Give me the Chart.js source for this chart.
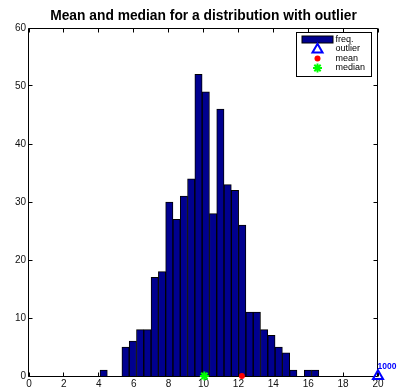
<!DOCTYPE html>
<html>
<head>
<meta charset="utf-8">
<script src="https://cdn.jsdelivr.net/npm/chart.js@4/dist/chart.umd.min.js"></script>
<style>
  html, body { margin: 0; padding: 0; background: #fff; }
  #wrap { width: 397px; height: 392px; }
</style>
</head>
<body>
<div id="wrap"><canvas id="c" width="397" height="392"></canvas></div>
<script>
// Histogram bins (centres) and their frequencies
const binCenters = [4.279, 4.697, 5.115, 5.533, 5.951, 6.369, 6.787, 7.205, 7.623, 8.041,
                    8.459, 8.877, 9.295, 9.713, 10.131, 10.549, 10.967, 11.385, 11.803, 12.221,
                    12.639, 13.057, 13.475, 13.893, 14.311, 14.729, 15.147, 15.565, 15.983, 16.401];
const counts = [1, 0, 0, 5, 6, 8, 8, 17, 18, 30,
                27, 31, 34, 52, 49, 28, 46, 33, 32, 26,
                11, 11, 8, 7, 5, 4, 1, 0, 1, 1];

// Summary statistics of the sample (the outlier included)
const outlierValue = 1000;
const meanValue = 12.2;
const medianValue = 10.05;

// Axis ticks
const xTicks = [0, 2, 4, 6, 8, 10, 12, 14, 16, 18, 20];
const yTicks = [0, 10, 20, 30, 40, 50, 60];
const xMin = 0, xMax = 20, yMin = 0, yMax = 60;

const titleText = 'Mean and median for a distribution with outlier';
const legendLabels = ['freq.', 'outlier', 'mean', 'median'];

const FONT = "'Liberation Sans', Arial, Helvetica, sans-serif";
const BAR_FILL = '#00008F';
const OUTLIER_COLOR = '#0000FF';
const MEAN_COLOR = '#FF0000';
const MEDIAN_COLOR = '#00FF00';

const outlierStyle = { pointStyle: 'triangle', radius: 5.8, borderWidth: 2, rotation: 0 };
const meanStyle = { pointStyle: 'circle', radius: 3, borderWidth: 0, rotation: 0 };
const medianStyle = { pointStyle: 'star', radius: 4.5, borderWidth: 2, rotation: 0 };

// Box, inward ticks and the title
const framePlugin = {
  id: 'frame',
  beforeDatasetsDraw(chart) {
    const { ctx, chartArea: a, scales: { x, y } } = chart;
    const L = Math.round(a.left) - 0.5, R = Math.round(a.right) - 0.5;
    const T = Math.round(a.top) + 0.5, B = Math.round(a.bottom) + 0.5;
    const tl = 4;
    ctx.save();
    ctx.strokeStyle = '#000';
    ctx.lineWidth = 1;
    ctx.beginPath();
    ctx.rect(L, T, R - L, B - T);
    xTicks.forEach(v => {
      const p = Math.floor(x.getPixelForValue(v)) + 0.5;
      ctx.moveTo(p, B); ctx.lineTo(p, B - tl);
      ctx.moveTo(p, T); ctx.lineTo(p, T + tl);
    });
    yTicks.forEach(v => {
      const p = Math.floor(y.getPixelForValue(v)) + 0.5;
      ctx.moveTo(L, p); ctx.lineTo(L + tl, p);
      ctx.moveTo(R, p); ctx.lineTo(R - tl, p);
    });
    ctx.stroke();

    ctx.fillStyle = '#000';
    ctx.font = 'bold 13.8px ' + FONT;
    ctx.textAlign = 'center';
    ctx.textBaseline = 'alphabetic';
    ctx.fillText(titleText, (a.left + a.right) / 2, 19.5);
    ctx.restore();
  },
  afterDatasetsDraw(chart) {
    const { ctx, chartArea: a, scales: { x, y } } = chart;
    const h = Chart.helpers;
    ctx.save();
    // value of the outlier, written next to its marker
    const ox = x.getPixelForValue(Math.min(outlierValue, xMax));
    const oy = y.getPixelForValue(0);
    ctx.fillStyle = OUTLIER_COLOR;
    ctx.font = 'bold 8.5px ' + FONT;
    ctx.textAlign = 'left';
    ctx.textBaseline = 'alphabetic';
    ctx.fillText(String(outlierValue), ox - 0.5, oy - 7.5);

    // legend
    const bx = a.right - 81.5, by = a.top + 4.5, bw = 75, bh = 44;
    ctx.fillStyle = '#fff';
    ctx.fillRect(bx, by, bw, bh);
    ctx.strokeStyle = '#000';
    ctx.lineWidth = 1;
    ctx.strokeRect(bx, by, bw, bh);
    const rows = [by + 7, by + 16.5, by + 26, by + 35.5];
    const mx = bx + 21;
    // freq. patch
    ctx.fillStyle = BAR_FILL;
    ctx.fillRect(bx + 5.5, rows[0] - 3.5, 31, 7);
    ctx.strokeStyle = '#000';
    ctx.strokeRect(bx + 5.5, rows[0] - 3.5, 31, 7);
    // outlier
    ctx.strokeStyle = OUTLIER_COLOR;
    ctx.fillStyle = 'rgba(0,0,0,0)';
    ctx.lineWidth = outlierStyle.borderWidth;
    h.drawPoint(ctx, outlierStyle, mx, rows[1] + 0.5);
    // mean
    ctx.fillStyle = MEAN_COLOR;
    ctx.strokeStyle = MEAN_COLOR;
    ctx.lineWidth = 0.001;
    h.drawPoint(ctx, meanStyle, mx, rows[2]);
    // median
    ctx.strokeStyle = MEDIAN_COLOR;
    ctx.lineWidth = medianStyle.borderWidth;
    h.drawPoint(ctx, medianStyle, mx, rows[3]);

    ctx.fillStyle = '#000';
    ctx.font = '9px ' + FONT;
    ctx.textAlign = 'left';
    ctx.textBaseline = 'middle';
    legendLabels.forEach((t, i) => ctx.fillText(t, bx + 39, rows[i]));
    ctx.restore();
  }
};

new Chart(document.getElementById('c'), {
  type: 'bar',
  data: {
    datasets: [
      {
        type: 'scatter',
        label: legendLabels[1],
        data: [{ x: Math.min(outlierValue, xMax), y: 0 }],
        pointStyle: outlierStyle.pointStyle,
        pointRadius: outlierStyle.radius,
        pointBorderWidth: outlierStyle.borderWidth,
        pointBorderColor: OUTLIER_COLOR,
        pointBackgroundColor: 'rgba(0,0,0,0)',
        clip: false,
        order: 1
      },
      {
        type: 'scatter',
        label: legendLabels[2],
        data: [{ x: meanValue, y: 0 }],
        pointStyle: meanStyle.pointStyle,
        pointRadius: meanStyle.radius,
        pointBorderWidth: 0,
        pointBackgroundColor: MEAN_COLOR,
        pointBorderColor: MEAN_COLOR,
        clip: false,
        order: 1
      },
      {
        type: 'scatter',
        label: legendLabels[3],
        data: [{ x: medianValue, y: 0 }],
        pointStyle: medianStyle.pointStyle,
        pointRadius: medianStyle.radius,
        pointBorderWidth: medianStyle.borderWidth,
        pointBorderColor: MEDIAN_COLOR,
        pointBackgroundColor: MEDIAN_COLOR,
        clip: false,
        order: 1
      },
      {
        type: 'bar',
        label: legendLabels[0],
        data: binCenters.map((c, i) => ({ x: c, y: counts[i] })),
        backgroundColor: BAR_FILL,
        borderColor: '#000',
        borderWidth: 1,
        borderSkipped: 'start',
        barPercentage: 1,
        categoryPercentage: 1,
        grouped: false,
        order: 10
      }
    ]
  },
  options: {
    responsive: false,
    animation: false,
    devicePixelRatio: 1,
    events: [],
    layout: { padding: { left: 0, right: 19, top: 28, bottom: 0 } },
    plugins: {
      legend: { display: false },
      title: { display: false },
      tooltip: { enabled: false }
    },
    scales: {
      x: {
        type: 'linear',
        min: xMin,
        max: xMax,
        offset: false,
        grid: { display: false, drawTicks: false, offset: false },
        border: { display: false },
        afterBuildTicks: s => { s.ticks = xTicks.map(v => ({ value: v })); },
        afterFit: s => { s.height = 16; },
        ticks: {
          padding: 2,
          maxRotation: 0,
          autoSkip: false,
          color: '#111',
          font: { family: FONT, size: 10 }
        }
      },
      y: {
        type: 'linear',
        min: yMin,
        max: yMax,
        grid: { display: false, drawTicks: false },
        border: { display: false },
        afterBuildTicks: s => { s.ticks = yTicks.map(v => ({ value: v })); },
        afterFit: s => { s.width = 29; },
        ticks: {
          padding: 3,
          color: '#111',
          font: { family: FONT, size: 10 }
        }
      }
    }
  },
  plugins: [framePlugin]
});
</script>
</body>
</html>
